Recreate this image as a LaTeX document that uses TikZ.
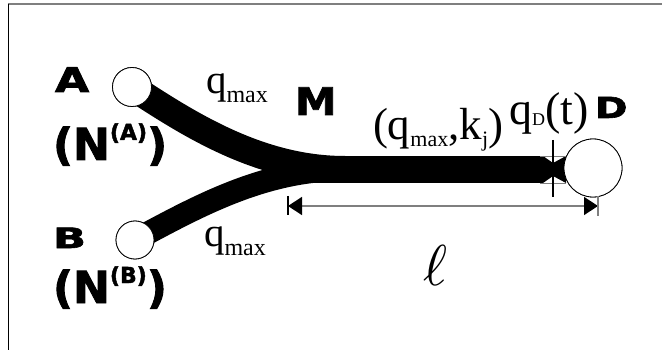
\documentclass[tikz,border=0pt]{standalone}
\usepackage{fontspec}
\usepackage{graphicx}
\setmainfont{Liberation Serif}
\newfontfamily\bsans{DejaVu Sans}[BoldFeatures={FakeBold=2}]
\usetikzlibrary{arrows.meta}
\definecolor{dimgray}{HTML}{7F7F7F}
\newcommand{\fs}[1]{\fontsize{#1}{#1}\selectfont}
\begin{document}
\begin{tikzpicture}[x=1pt,y=-1pt,
  lbl/.style={inner sep=0pt, outer sep=0pt},
  bold/.style={inner sep=0pt, outer sep=0pt, font=\bsans\bfseries},
  station/.style={circle, draw=black, fill=white, line width=0.8pt, inner sep=0pt},
  road/.style={line width=#1, draw=black, line cap=butt},
  tick/.style={line width=1.2pt},
  dimline/.style={draw=dimgray, line width=1.5pt}]
\useasboundingbox (0,0) rectangle (662,350);
% frame
\draw[dimgray, line width=1.5pt] (8,4) -- (662,4);
\draw[black, line width=1pt] (8,4) -- (8,350);
% junction and bar coordinates
\coordinate (j) at (345,169.5);
\coordinate (bs) at (300,169.5);
\coordinate (be) at (543,169.5);
% stations
\node[station, minimum size=39pt] (a) at (132,87) {};
\node[station, minimum size=38pt] (b) at (135,240) {};
\node[station, minimum size=58pt] (d) at (593,168) {};
% roads
\draw[road=27pt] (a.center) .. controls (190,125) and (260,169.5) .. (j);
\draw[road=23pt] (b.center) .. controls (200,205) and (265,169.5) .. (j);
\draw[road=27pt] (bs) -- (be);
\fill[black] (543,156) -- (553,163) -- (566,156) -- (566,183) -- (553,176) -- (543,183) -- cycle;
\draw[dimgray, line width=0.5pt] (540,156) -- (566,156) (540,183) -- (566,183);
% circles on top
\node[station, minimum size=39pt] at (a.center) {};
\node[station, minimum size=38pt] at (b.center) {};
\node[station, minimum size=58pt] at (d.center) {};
% qD tick
\coordinate (qt1) at (553,140);
\coordinate (qt2) at (553,197);
\draw[tick] (qt1) -- (qt2);
% dimension line
\coordinate (dl) at (288,206);
\coordinate (dr) at (598,206);
\draw[dimline, {Triangle[length=14pt,width=18pt,color=black]}-{Triangle[length=14pt,width=18pt,color=black]}] (dl) -- (dr);
\coordinate (lt1) at (288,196);
\coordinate (lt2) at (288,215);
\coordinate (rt1) at (598,196);
\coordinate (rt2) at (598,216);
\draw[tick, black] (lt1) -- (lt2);
\draw[line width=1.3pt, dimgray] (rt1) -- (rt2);
% labels
\node[bold, anchor=base west] (la) at (55,92) {\scalebox{1.3}[1]{\fs{34}A}};
\node[bold, anchor=base west] (lna) at (53,160) {\fs{44}(N\raisebox{20pt}{\fs{22}(A)})};
\node[bold, anchor=base west] (lb) at (53,248) {\scalebox{1.55}[1]{\fs{28}B}};
\node[bold, anchor=base west] (lnb) at (53,303) {\fs{44}(N\raisebox{20pt}{\fs{22}(B)})};
\node[bold, anchor=base west] (lm) at (295,115) {\scalebox{1.1}[1]{\fs{38}M}};
\node[bold, anchor=base west] (ld) at (595,118) {\scalebox{1.35}[1]{\fs{29}D}};
\node[lbl, anchor=base west] (qa) at (206,94) {\fs{41}q\raisebox{-9pt}{\fs{24}max}};
\node[lbl, anchor=base west] (qb) at (204,247) {\fs{41}q\raisebox{-9pt}{\fs{24}max}};
\node[lbl, anchor=base west] (qk) at (373,140) {\fs{45}(q\raisebox{-7pt}{\fs{22}max},k\raisebox{-7pt}{\fs{22}j})};
\node[lbl, anchor=base west] (qd) at (509,125) {\fs{46}q\raisebox{-1pt}{\fs{18}D}(t)};
\node[lbl, anchor=base west] (ell) at (423,285) {\resizebox{!}{40pt}{$\ell$}};
\end{tikzpicture}
\end{document}
